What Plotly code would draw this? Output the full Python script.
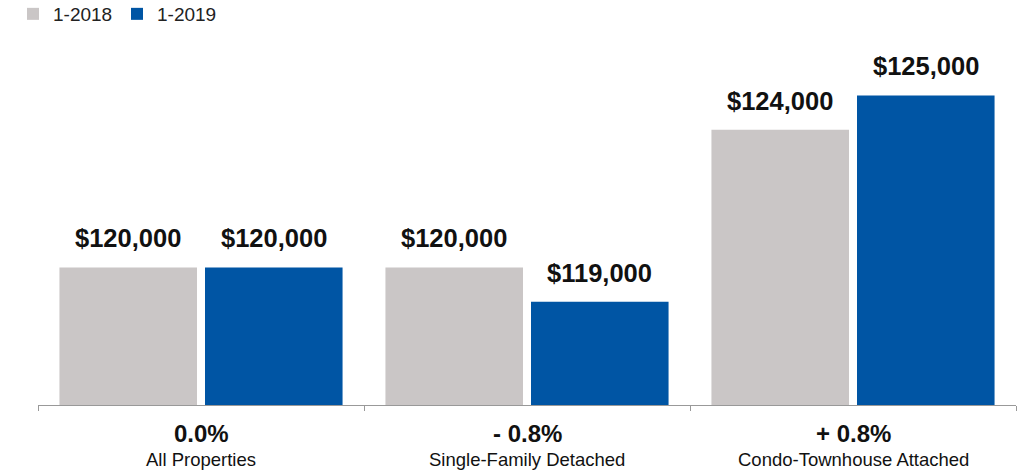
import plotly.graph_objects as go

# Median sales price, January 2018 vs January 2019
categories = ["All Properties", "Single-Family Detached", "Condo-Townhouse Attached"]
series_names = ["1-2018", "1-2019"]
prices_2018 = [120000, 120000, 124000]
prices_2019 = [120000, 119000, 125000]

colors = ["#CAC6C6", "#0055A4"]
FONT = "Liberation Sans, Arial, Helvetica, sans-serif"

W, H = 1018, 474
M_L, M_R, M_T, M_B = 38, 2, 40, 69
Y_MIN, Y_MAX = 116000, 126610

BARGAP = 0.107
BARGROUPGAP = 0.055

fig = go.Figure()
for name, vals, col in zip(series_names, [prices_2018, prices_2019], colors):
    fig.add_trace(go.Bar(
        x=categories, y=vals, name=name,
        marker=dict(color=col, line=dict(width=0)),
        hoverinfo="x+y",
    ))

# value labels above each bar
plot_w = W - M_L - M_R
plot_h = H - M_T - M_B
cat_px = plot_w / len(categories)
slot_px = cat_px * (1 - BARGAP) / 2
for i, vals in enumerate([prices_2018, prices_2019]):
    shift = (i - 0.5) * slot_px
    for cat, v in zip(categories, vals):
        fig.add_annotation(
            x=cat, y=v, xref="x", yref="y",
            text=f"<b>${v:,.0f}</b>",
            showarrow=False, xshift=shift, yanchor="bottom", yshift=13,
            font=dict(family=FONT, size=25.5, color="#111111"),
        )

# percent change and category name under each group
for cat, a, b in zip(categories, prices_2018, prices_2019):
    pct = (b - a) / a * 100
    if round(pct, 1) > 0:
        label = f"+ {abs(pct):.1f}%"
    elif round(pct, 1) < 0:
        label = f"- {abs(pct):.1f}%"
    else:
        label = "0.0%"
    fig.add_annotation(
        x=cat, y=0, xref="x", yref="paper", text=f"<b>{label}</b>",
        showarrow=False, yanchor="middle", yshift=-28,
        font=dict(family=FONT, size=24, color="#111111"),
    )
    fig.add_annotation(
        x=cat, y=0, xref="x", yref="paper", text=cat,
        showarrow=False, yanchor="middle", yshift=-54,
        font=dict(family=FONT, size=18.5, color="#111111"),
    )

fig.update_layout(
    width=W, height=H,
    margin=dict(l=M_L, r=M_R, t=M_T, b=M_B, autoexpand=False),
    paper_bgcolor="white", plot_bgcolor="white",
    barmode="group", bargap=BARGAP, bargroupgap=BARGROUPGAP,
    font=dict(family=FONT, color="#111111"),
    showlegend=True,
    legend=dict(
        orientation="h", x=(13 - M_L) / plot_w, xanchor="left",
        y=1 + (M_T - 14) / plot_h, yanchor="middle",
        font=dict(family=FONT, size=19, color="#222222"),
        entrywidth=59, entrywidthmode="pixels",
        itemwidth=30, bgcolor="rgba(0,0,0,0)",
    ),
    xaxis=dict(
        type="category", tickson="boundaries", ticks="outside",
        ticklen=5, tickcolor="#999999", tickwidth=1,
        showline=True, linecolor="#999999", linewidth=1,
        showticklabels=False, showgrid=False, zeroline=False,
    ),
    yaxis=dict(
        range=[Y_MIN, Y_MAX], visible=False, showgrid=False, zeroline=False,
    ),
)

fig.write_html("out.html")
